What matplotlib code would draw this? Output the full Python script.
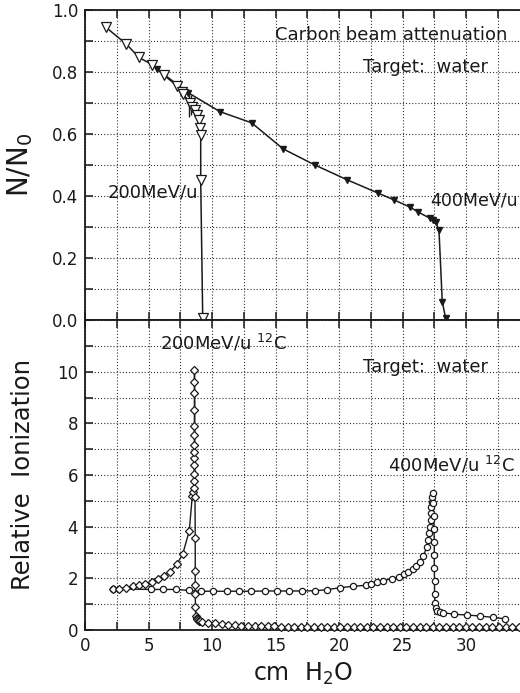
import matplotlib
matplotlib.use("Agg")
import matplotlib.pyplot as plt
from matplotlib.ticker import MultipleLocator

plt.rcParams['font.family'] = ['DejaVu Sans']

# ---------------- data: top panel (attenuation N/N0) ----------------
att200_x = [1.65, 3.23, 4.25, 5.28, 6.22, 7.21, 7.61, 7.74, 8.27, 8.40, 8.66, 8.80, 9.00, 9.06, 9.11, 9.11, 9.27]
att200_y = [0.944, 0.891, 0.847, 0.824, 0.790, 0.756, 0.736, 0.728, 0.700, 0.688, 0.677, 0.661, 0.645, 0.618, 0.597, 0.452, 0.005]

att400_x = [5.64, 8.13, 10.63, 13.12, 15.60, 18.10, 20.65, 23.10, 24.35, 25.60, 26.20, 27.17, 27.43, 27.60, 27.87, 28.13, 28.40]
att400_y = [0.810, 0.733, 0.672, 0.636, 0.552, 0.500, 0.452, 0.409, 0.387, 0.364, 0.349, 0.328, 0.323, 0.317, 0.290, 0.059, 0.005]

err_x = [8.19, 8.35]
err_lo = [0.655, 0.660]
err_hi = [0.740, 0.725]

# ---------------- data: bottom panel (relative ionization) ----------------
ion200_x = [2.23, 2.70, 3.23, 3.75, 4.28, 4.73, 5.25, 5.72, 6.25, 6.69, 7.22, 7.69, 8.21, 8.45, 8.50, 8.55,
            8.58, 8.60, 8.60, 8.61, 8.61, 8.61, 8.61, 8.61, 8.62, 8.62, 8.62, 8.62,
            8.66, 8.68, 8.68, 8.68, 8.68, 8.70, 8.72, 8.78, 8.84, 8.90, 8.97, 9.05,
            9.19, 9.71, 10.23, 10.75, 11.27, 11.79, 12.31, 12.83, 13.35, 13.87, 14.39, 14.91, 15.43,
            15.95, 16.47, 16.99, 17.51, 18.03, 18.55, 19.07, 19.59, 20.11, 20.63, 21.15, 21.67,
            22.19, 22.71, 23.23, 23.75, 24.27, 24.79, 25.31, 25.83, 26.35, 26.87, 27.39, 27.91,
            28.43, 28.95, 29.47, 29.99, 30.51, 31.03, 31.55, 32.07, 32.59, 33.11, 33.63, 34.15]
ion200_y = [1.57, 1.59, 1.64, 1.69, 1.74, 1.79, 1.87, 1.97, 2.10, 2.26, 2.54, 2.93, 3.84, 5.20, 5.35, 5.50,
            5.77, 6.03, 6.38, 6.64, 6.90, 7.16, 7.54, 7.89, 8.51, 9.16, 9.61, 10.06,
            5.16, 3.57, 2.30, 1.74, 1.40, 0.88, 0.55, 0.48, 0.42, 0.38, 0.36, 0.34,
            0.32, 0.29, 0.26, 0.22, 0.20, 0.18, 0.16, 0.15, 0.15, 0.14, 0.14, 0.14, 0.13,
            0.13, 0.13, 0.13, 0.13, 0.13, 0.12, 0.12, 0.12, 0.12, 0.12, 0.12, 0.12,
            0.12, 0.12, 0.12, 0.12, 0.12, 0.12, 0.12, 0.12, 0.12, 0.12, 0.12, 0.12,
            0.12, 0.12, 0.12, 0.12, 0.12, 0.12, 0.12, 0.12, 0.12, 0.12, 0.12, 0.12]

ion400_x = [2.23, 5.20, 6.17, 7.20, 8.15, 9.10, 10.10, 11.15, 12.15, 13.10, 14.17, 15.15, 16.10, 17.10,
            18.10, 19.05, 20.10, 21.10, 22.10, 22.50, 23.00, 23.50, 24.15, 24.70, 25.10, 25.46,
            25.80, 26.10, 26.38, 26.64, 26.90, 27.03, 27.12, 27.18, 27.22, 27.25, 27.28, 27.30,
            27.33, 27.37, 27.42, 27.45, 27.48, 27.50, 27.50, 27.50, 27.52, 27.52, 27.55, 27.60,
            27.75, 27.95, 28.20, 29.05, 30.10, 31.10, 32.10, 33.07]
ion400_y = [1.59, 1.57, 1.57, 1.57, 1.53, 1.50, 1.50, 1.50, 1.50, 1.50, 1.51, 1.51, 1.51, 1.51,
            1.52, 1.56, 1.64, 1.69, 1.73, 1.78, 1.84, 1.91, 1.99, 2.06, 2.15, 2.26,
            2.36, 2.47, 2.64, 2.86, 3.20, 3.48, 3.74, 4.00, 4.26, 4.51, 4.77, 4.96,
            5.16, 5.29, 4.90, 4.40, 3.90, 3.40, 2.90, 2.40, 1.90, 1.40, 1.05, 0.84,
            0.72, 0.69, 0.67, 0.61, 0.58, 0.54, 0.49, 0.43]

x_ticks = [0, 5, 10, 15, 20, 25, 30]
top_yticks = [0.0, 0.2, 0.4, 0.6, 0.8, 1.0]
bot_yticks = [0, 2, 4, 6, 8, 10]

# ---------------- figure ----------------
W, H = 520, 693
fig = plt.figure(figsize=(W / 100, H / 100), dpi=100)
left = 85 / W
width = 1 - left
ax1 = fig.add_axes([left, (H - 320) / H, width, 310 / H])
ax2 = fig.add_axes([left, (H - 630) / H, width, 310 / H])

ink = '#1a1a1a'

for ax in (ax1, ax2):
    ax.set_xlim(0, 34.25)
    ax.xaxis.set_major_locator(MultipleLocator(5))
    ax.xaxis.set_minor_locator(MultipleLocator(2.5))
    ax.grid(True, which='both', linestyle=(0, (1, 1.8)), color='#333333', linewidth=0.8)
    ax.set_axisbelow(True)
    ax.spines['right'].set_visible(False)
    for s in ('left', 'top', 'bottom'):
        ax.spines[s].set_linewidth(1.3)
        ax.spines[s].set_color(ink)
    ax.tick_params(axis='both', which='both', direction='in', length=6, width=1.1,
                   color=ink, top=True, right=False, labelsize=12, labelcolor=ink)
    ax.tick_params(axis='y', pad=5)
    ax.tick_params(axis='x', pad=5)

# top panel
ax1.set_ylim(0, 1.0)
ax1.set_yticks(top_yticks)
ax1.yaxis.set_minor_locator(MultipleLocator(0.1))
ax1.set_yticklabels([f'{v:.1f}' for v in top_yticks])
ax1.set_xticks(x_ticks)
ax1.tick_params(axis='x', labelbottom=False)

ax1.plot(att400_x, att400_y, color=ink, lw=1.1, marker='v', ms=5, mfc=ink, mec=ink, zorder=3, clip_on=False)
ax1.plot(att200_x, att200_y, color=ink, lw=1.1, marker='v', ms=6.5, mfc='white', mec=ink, mew=0.9, zorder=4, clip_on=False)
ax1.vlines(err_x, err_lo, err_hi, color=ink, lw=1.0, zorder=3)

ax1.set_ylabel(r'N/N$_0$', fontsize=20, color=ink)
ax1.yaxis.set_label_coords(-0.115, 0.5)

ax1.text(14.96, 0.919, 'Carbon beam attenuation', fontsize=13, color=ink, ha='left', va='center')
ax1.text(21.9, 0.816, 'Target:  water', fontsize=13, color=ink, ha='left', va='center')
ax1.text(1.8, 0.41, '200MeV/u', fontsize=13, color=ink, ha='left', va='center')
ax1.text(27.15, 0.387, '400MeV/u', fontsize=12.5, color=ink, ha='left', va='center')

# bottom panel
ax2.set_ylim(0, 12)
ax2.set_yticks(bot_yticks)
ax2.yaxis.set_minor_locator(MultipleLocator(1))
ax2.set_xticks(x_ticks)

ax2.plot(ion400_x, ion400_y, color=ink, lw=1.0, marker='o', ms=4.5, mfc='white', mec=ink, mew=0.9, zorder=3)
ax2.plot(ion200_x, ion200_y, color=ink, lw=1.0, marker='D', ms=4, mfc='white', mec=ink, mew=0.9, zorder=4, clip_on=False)

ax2.set_ylabel('Relative  Ionization', fontsize=17.5, color=ink)
ax2.yaxis.set_label_coords(-0.115, 0.5)
ax2.set_xlabel(r'cm  H$_2$O', fontsize=17, color=ink, labelpad=4)

ax2.text(5.9, 11.1, r'200MeV/u $^{12}$C', fontsize=13, color=ink, ha='left', va='center')
ax2.text(21.9, 10.17, 'Target:  water', fontsize=13, color=ink, ha='left', va='center')
ax2.text(23.85, 6.38, r'400MeV/u $^{12}$C', fontsize=13, color=ink, ha='left', va='center')

fig.savefig('out.png', dpi=100)
